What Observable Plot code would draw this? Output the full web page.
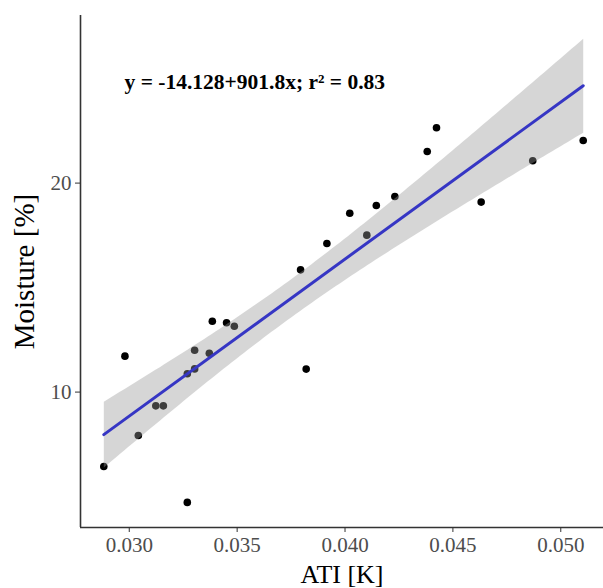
<!DOCTYPE html>
<html>
<head>
<meta charset="utf-8">
<script src="https://cdn.jsdelivr.net/npm/d3@7"></script>
<script src="https://cdn.jsdelivr.net/npm/@observablehq/plot@0.6"></script>
<style>
  html, body { margin: 0; padding: 0; background: white; }
</style>
</head>
<body>
<div id="chart"></div>
<script>
const atiK = [0.02882, 0.02980, 0.03042, 0.03123, 0.03158, 0.03269, 0.03303, 0.03303, 0.03371, 0.03385,
  0.03451, 0.03487, 0.03269, 0.04424, 0.04381, 0.05104, 0.04870, 0.04631, 0.04231, 0.04145,
  0.04022, 0.04101, 0.03916, 0.03794, 0.03820];
const moisture = [6.44, 11.72, 7.92, 9.34, 9.34, 10.88, 11.11, 12.0, 11.86, 13.39,
  13.32, 13.15, 4.72, 22.65, 21.51, 22.04, 21.07, 19.09, 19.36, 18.93,
  18.56, 17.51, 17.11, 15.85, 11.10];
const xTicks = [0.030, 0.035, 0.040, 0.045, 0.050];
const yTicks = [10, 20];
const xDomain = [0.02774, 0.05198];
const yDomain = [3.52, 28.02];
const xLabel = "ATI [K]";
const yLabel = "Moisture [%]";
const equation = "y = -14.128+901.8x; r\u00B2 = 0.83";

const data = atiK.map((x, i) => ({x, y: moisture[i]}));
const serif = "'Liberation Serif', 'Times New Roman', serif";

const chart = Plot.plot({
  width: 603,
  height: 588,
  marginLeft: 80,
  marginRight: 0,
  marginTop: 15,
  marginBottom: 61,
  style: {fontFamily: serif, background: "white"},
  x: {domain: xDomain},
  y: {domain: yDomain},
  marks: [
    Plot.dot(data, {x: "x", y: "y", r: 3.8, fill: "black", stroke: "none"}),
    Plot.linearRegressionY(data, {x: "x", y: "y", stroke: "#3636c4", strokeWidth: 3, fill: "#999999", fillOpacity: 0.4}),
    Plot.ruleY([yDomain[0]], {stroke: "#333", strokeWidth: 1.6}),
    Plot.ruleX([xDomain[0]], {stroke: "#333", strokeWidth: 1.6}),
    Plot.axisX({ticks: xTicks, tickFormat: d3.format(".3f"), tickSize: 5, tickPadding: 5, fontSize: 21, fill: "#4d4d4d", stroke: "#333", label: null}),
    Plot.axisY({ticks: yTicks, tickSize: 5, tickPadding: 4, fontSize: 21, fill: "#4d4d4d", stroke: "#333", label: null}),
    Plot.text([equation], {text: d => d, frameAnchor: "top-left", dx: 44, dy: 67, textAnchor: "start", lineAnchor: "middle", fontSize: 21.5, fontWeight: "bold", fill: "black"}),
    Plot.text([xLabel], {text: d => d, frameAnchor: "bottom", dy: 47, textAnchor: "middle", lineAnchor: "middle", fontSize: 26, fill: "black"}),
    Plot.text([yLabel], {text: d => d, frameAnchor: "left", dx: -56, rotate: -90, textAnchor: "middle", lineAnchor: "middle", fontSize: 29, fill: "black"})
  ]
});
document.getElementById("chart").append(chart);
</script>
</body>
</html>
